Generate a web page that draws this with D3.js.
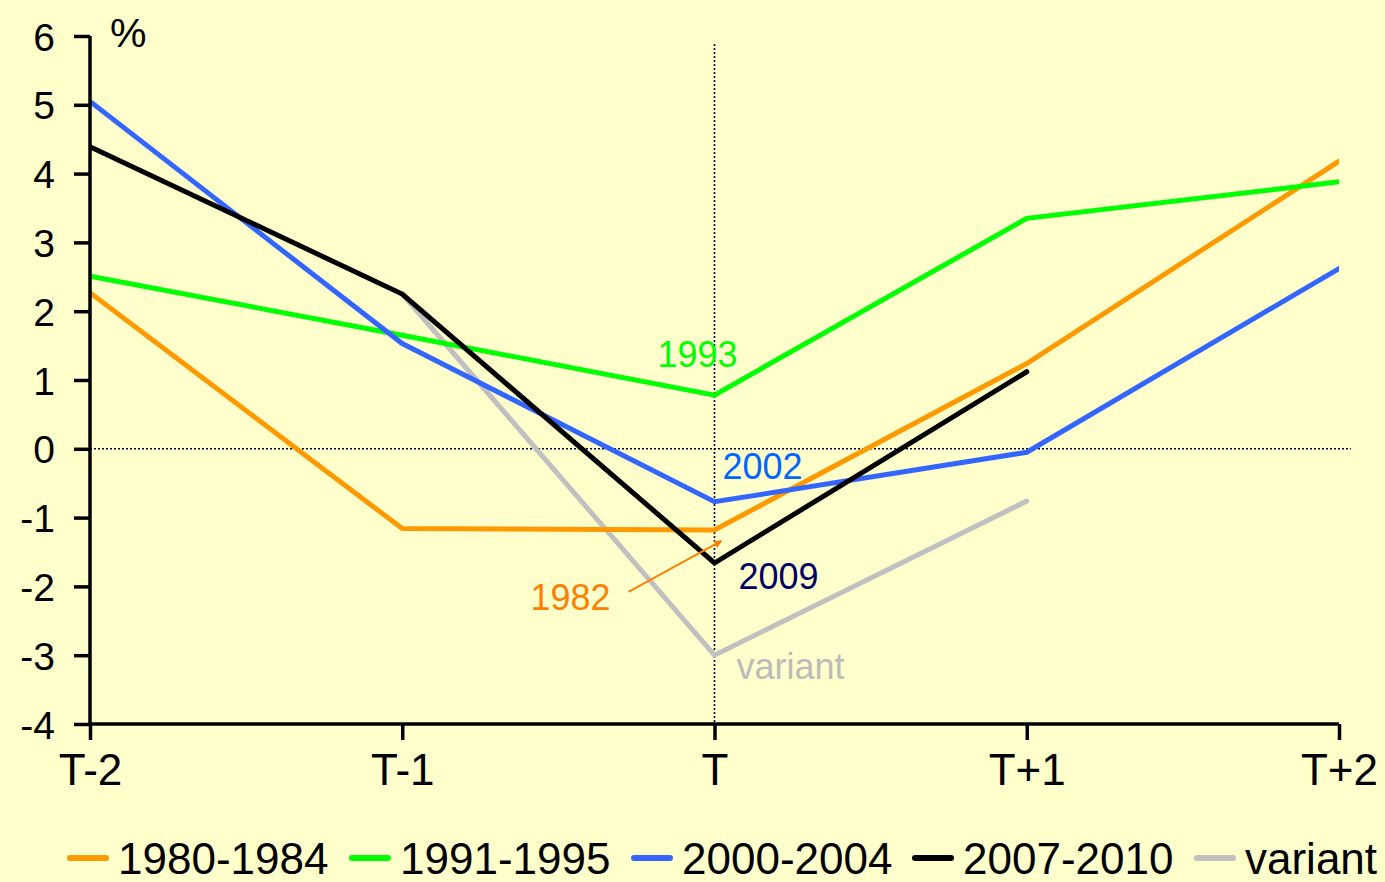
<!DOCTYPE html>
<html>
<head>
<meta charset="utf-8">
<script src="https://cdn.jsdelivr.net/npm/d3@7"></script>
<style>
  html, body { margin: 0; padding: 0; background: #FFFFCC; }
  svg { display: block; font-family: "Liberation Sans", Arial, sans-serif; }
</style>
</head>
<body>
<div id="chart"></div>
<script>
// periods around the trough year T
var periods = ["T-2", "T-1", "T", "T+1", "T+2"];
var yTicks = [-4, -3, -2, -1, 0, 1, 2, 3, 4, 5, 6];

// series values (%), null = no data
var s1980 = [2.27, -1.16, -1.18, 1.24, 4.18];
var s1991 = [2.51, 1.65, 0.78, 3.35, 3.88];
var s2000 = [5.05, 1.53, -0.77, -0.05, 2.62];
var s2007 = [4.39, 2.25, -1.66, 1.12, null];
var sVariant = [null, 2.25, -3.0, -0.76, null];

var seriesNames = ["1980-1984", "1991-1995", "2000-2004", "2007-2010", "variant"];
var seriesColors = ["#FF9900", "#00FF00", "#3366FF", "#000000", "#C0C0C0"];

// point labels on the chart
var labels = [
  {text: "1993", period: "T", value: 0.78, dx: -57, dy: -28, color: "#00FF00"},
  {text: "2002", period: "T", value: -0.77, dx: 8, dy: -23, color: "#0066FF"},
  {text: "2009", period: "T", value: -1.66, dx: 24, dy: 26, color: "#000066"},
  {text: "variant", period: "T", value: -3.0, dx: 22, dy: 24, color: "#BBBBBB"},
  {text: "1982", period: "T", value: -1.18, dx: -184, dy: 80, color: "#FF8000"}
];

function init() {
    var w = 1385, h = 882;
    var left = 90, right = 1339, top = 36, bottom = 724;

    var svg = d3.select("#chart").append("svg")
        .attr("width", w)
        .attr("height", h);

    svg.append("rect").attr("width", w).attr("height", h).attr("fill", "#FFFFCC");

    var x = d3.scalePoint().domain(periods).range([left, right]);
    var y = d3.scaleLinear().domain([-4, 6]).range([bottom, top]);

    var defs = svg.append("defs");
    defs.append("clipPath").attr("id", "plot")
        .append("rect")
        .attr("x", left).attr("y", 0)
        .attr("width", right - left).attr("height", h);
    defs.append("marker")
        .attr("id", "arrow")
        .attr("viewBox", "0 0 10 10")
        .attr("refX", 9).attr("refY", 5)
        .attr("markerWidth", 9).attr("markerHeight", 8)
        .attr("markerUnits", "userSpaceOnUse")
        .attr("orient", "auto")
        .append("path")
        .attr("d", "M0,0 L10,5 L0,10 Z")
        .attr("fill", "#FF8000");

    // dotted reference lines
    svg.append("line")
        .attr("x1", left).attr("x2", right + 12)
        .attr("y1", y(0)).attr("y2", y(0))
        .attr("stroke", "#000044").attr("stroke-width", 1.6)
        .attr("stroke-dasharray", "2,2");
    svg.append("line")
        .attr("x1", x("T")).attr("x2", x("T"))
        .attr("y1", top + 8).attr("y2", bottom)
        .attr("stroke", "#000044").attr("stroke-width", 1.6)
        .attr("stroke-dasharray", "2,2");

    // lines
    var allSeries = [s1980, s1991, s2000, s2007, sVariant];
    var line = d3.line()
        .defined(d => d != null)
        .x((d, i) => x(periods[i]))
        .y(d => y(d));

    var lines = svg.append("g").attr("clip-path", "url(#plot)");
    // draw variant first so others sit above it
    [4, 0, 1, 2, 3].forEach(function(k) {
        lines.append("path")
            .datum(allSeries[k])
            .attr("d", line)
            .attr("fill", "none")
            .attr("stroke", seriesColors[k])
            .attr("stroke-width", 5)
            .attr("stroke-linecap", "round")
            .attr("stroke-linejoin", "miter");
    });

    // axes
    var yAxis = d3.axisLeft(y).tickValues(yTicks).tickSize(16).tickPadding(19)
        .tickFormat(d => String(d));
    var gy = svg.append("g")
        .attr("transform", "translate(" + left + ",0)")
        .call(yAxis);
    gy.select(".domain").attr("stroke", "#000").attr("stroke-width", 3.5)
        .attr("d", "M0," + top + "V" + bottom);
    gy.selectAll(".tick line").attr("stroke", "#000").attr("stroke-width", 3.5);
    gy.selectAll(".tick text")
        .attr("font-size", 39)
        .attr("font-family", "Liberation Sans, Arial, sans-serif")
        .attr("fill", "#000")
        .attr("dy", "0.36em");

    var xAxis = d3.axisBottom(x).tickSize(16).tickPadding(14);
    var gx = svg.append("g")
        .attr("transform", "translate(0," + bottom + ")")
        .call(xAxis);
    gx.select(".domain").attr("stroke", "#000").attr("stroke-width", 3.5)
        .attr("d", "M" + left + ",0H" + right);
    gx.selectAll(".tick line").attr("stroke", "#000").attr("stroke-width", 3.5);
    gx.selectAll(".tick text")
        .attr("font-size", 44)
        .attr("font-family", "Liberation Sans, Arial, sans-serif")
        .attr("fill", "#000");

    // unit
    svg.append("text")
        .attr("x", left + 20).attr("y", top + 11)
        .attr("font-size", 41)
        .text("%");

    // point labels
    labels.forEach(function(l) {
        svg.append("text")
            .attr("x", x(l.period) + l.dx)
            .attr("y", y(l.value) + l.dy)
            .attr("font-size", 36)
            .attr("fill", l.color)
            .text(l.text);
    });

    // arrow from "1982" to the T point of 1980-1984
    var lab = labels[4];
    svg.append("line")
        .attr("x1", x(lab.period) + lab.dx + 98)
        .attr("y1", y(lab.value) + lab.dy - 18)
        .attr("x2", x(lab.period) + 7)
        .attr("y2", y(lab.value) + 11)
        .attr("stroke", "#FF8000")
        .attr("stroke-width", 2)
        .attr("marker-end", "url(#arrow)");

    // legend
    var legend = svg.append("g").attr("transform", "translate(68,858)");
    var offsets = [0, 282, 564, 845, 1127];
    seriesNames.forEach(function(name, i) {
        var item = legend.append("g").attr("transform", "translate(" + offsets[i] + ",0)");
        item.append("line")
            .attr("x1", 2).attr("x2", 38)
            .attr("y1", 0).attr("y2", 0)
            .attr("stroke", seriesColors[i])
            .attr("stroke-width", 6)
            .attr("stroke-linecap", "round");
        item.append("text")
            .attr("x", 50).attr("y", 16)
            .attr("font-size", 44)
            .attr("fill", "#000")
            .text(name);
    });
}

init();
</script>
</body>
</html>
